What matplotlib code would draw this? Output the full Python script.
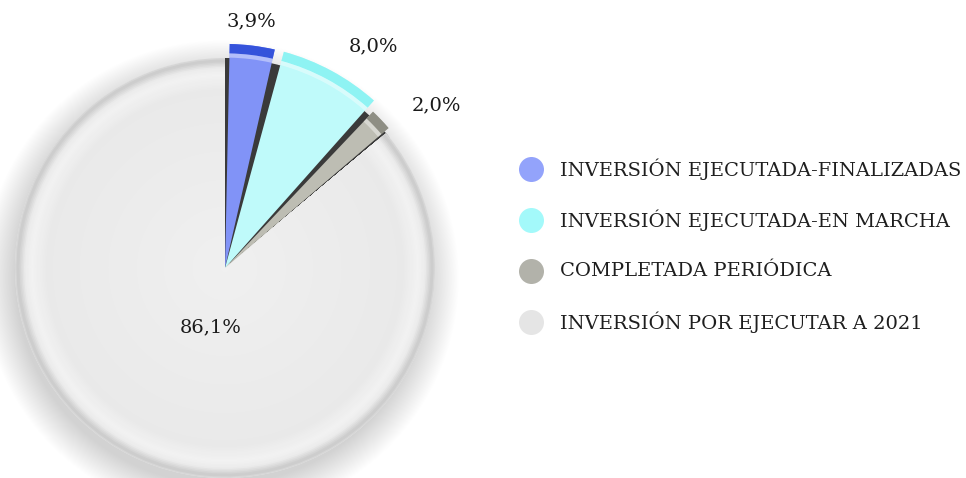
import matplotlib
matplotlib.use("Agg")
import matplotlib.pyplot as plt
from matplotlib.patches import Wedge, Circle
from matplotlib.lines import Line2D
import numpy as np

categories = ["INVERSIÓN EJECUTADA-FINALIZADAS",
              "INVERSIÓN EJECUTADA-EN MARCHA",
              "COMPLETADA PERIÓDICA",
              "INVERSIÓN POR EJECUTAR A 2021"]
values = [3.9, 8.0, 2.0, 86.1]
value_labels = ["3,9%", "8,0%", "2,0%", "86,1%"]

slice_colors = ["#8193f7", "#bffafa", "#bdbdb3", "#ebebeb"]
rim_colors = ["#3553db", "#8ef3f3", "#8e8e84", "#c9c9c9"]
legend_colors = ["#93a3fb", "#a3f9fa", "#b2b2aa", "#e5e5e5"]
radii = [1.067, 1.067, 1.025, 1.0]
shrink = [1.2, 1.2, 0.6]
label_r = [1.18, 1.27, 1.27, 0.29]
label_dang = [1.0, -5.5, -6.0, 11.0]

W, H = 966, 478
fig = plt.figure(figsize=(W / 100, H / 100), dpi=100)
ax = fig.add_axes([0, 0, 1, 1])
R = 210.0
cx, cy = 225.0, 268.0

wedges, _ = ax.pie(values, colors=slice_colors, startangle=90, counterclock=False,
                   radius=1.0, wedgeprops=dict(linewidth=0), center=(0, 0))
for w in wedges:
    w.set_zorder(2)

ax.set_xlim(-cx / R, (W - cx) / R)
ax.set_ylim(-(H - cy) / R, cy / R)
ax.set_aspect("equal")
ax.axis("off")

# soft drop shadow of the disc
for k in range(45):
    rr = 0.98 + 0.0035 * k
    ax.add_patch(Circle((-0.02, -0.05), rr, color="#000000", alpha=0.0055, lw=0, zorder=0))

# dark shadow behind the small slices
small_t1 = min(w.theta1 for w in wedges[:3])
small_t2 = max(w.theta2 for w in wedges[:3])
ax.add_patch(Wedge((0, 0), 1.0, small_t1 - 1.5, small_t2, color="#3a3a3a", zorder=1.5, lw=0))

big = wedges[3]
bt1, bt2 = big.theta1, big.theta2


def lerp(c0, c1, t):
    return tuple(np.array(c0) * (1 - t) + np.array(c1) * t)


stops = [(0.0, (0.94, 0.94, 0.94)), (0.85, (0.915, 0.915, 0.915)), (0.925, (0.95, 0.95, 0.95)),
         (0.955, (0.925, 0.925, 0.925)), (0.99, (0.79, 0.79, 0.79)), (1.0, (0.84, 0.84, 0.84))]
N = 140
rs = np.linspace(0, 1.0, N + 1)
for j in range(N, 0, -1):
    r = rs[j]
    c = stops[-1][1]
    for k in range(len(stops) - 1):
        if stops[k][0] <= r <= stops[k + 1][0]:
            t = (r - stops[k][0]) / (stops[k + 1][0] - stops[k][0])
            c = lerp(stops[k][1], stops[k + 1][1], t)
            break
    ax.add_patch(Wedge((0, 0), r, bt1, bt2, color=c, lw=0, zorder=2.1))

# small slices: enlarge, separate, add rim shading
for i, w in enumerate(wedges[:3]):
    w.set_radius(radii[i])
    t1, t2 = w.theta1 + shrink[i], w.theta2 - shrink[i]
    w.set_theta1(t1)
    w.set_theta2(t2)
    w.set_zorder(3)
    ax.add_patch(Wedge((0, 0), radii[i], t1, t2, width=0.045, color=rim_colors[i], lw=0, zorder=3.1))
    ax.add_patch(Wedge((0, 0), radii[i] - 0.045, t1, t2, width=0.02,
                       color="white", alpha=0.4, lw=0, zorder=3.2))

# value labels
for i, w in enumerate(wedges):
    mid = np.deg2rad((w.theta1 + w.theta2) / 2 + label_dang[i])
    ax.text(label_r[i] * np.cos(mid), label_r[i] * np.sin(mid), value_labels[i],
            ha="center", va="center", fontsize=14, family="DejaVu Serif",
            color="#1a1a1a", zorder=5)

# legend (manual rows, evenly spaced)
row_y0, row_dy = 169, 51
for i, (lab, c) in enumerate(zip(categories, legend_colors)):
    yf = 1 - (row_y0 + i * row_dy) / H
    fig.add_artist(Line2D([531 / W], [yf], marker="o", linestyle="", markersize=18,
                          markerfacecolor=c, markeredgewidth=0, transform=fig.transFigure))
    fig.text(560 / W, yf, lab, ha="left", va="center", fontsize=14,
             family="DejaVu Serif", color="#1e1e1e")

fig.savefig("out.png", dpi=100)
